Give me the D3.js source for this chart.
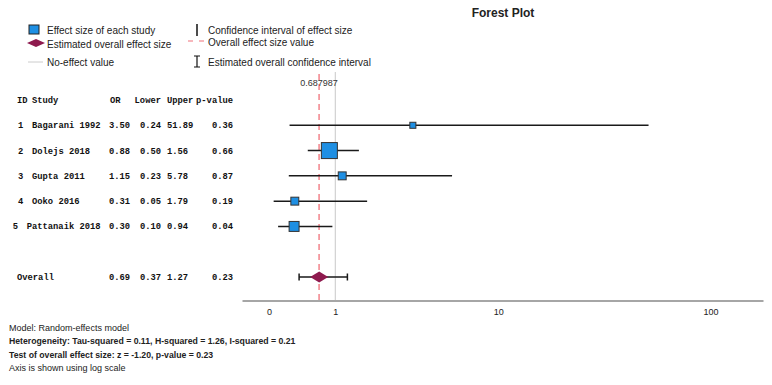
<!DOCTYPE html>
<html>
<head>
<meta charset="utf-8">
<script src="https://cdn.jsdelivr.net/npm/d3@7"></script>
<style>
  body { margin: 0; background: #fff; }
  text { font-family: "Liberation Sans", Arial, sans-serif; fill: #222; }
  .tbl { font-family: "Liberation Mono", "Courier New", monospace; font-weight: bold; font-size: 8.8px; fill: #111; }
</style>
</head>
<body>
<div id="chart"></div>
<script>
// study data
var ids = [1, 2, 3, 4, 5];
var studies = ["Bagarani 1992", "Dolejs 2018", "Gupta 2011", "Ooko 2016", "Pattanaik 2018"];
var orVals = [3.50, 0.88, 1.15, 0.31, 0.30];
var lowerVals = [0.24, 0.50, 0.23, 0.05, 0.10];
var upperVals = [51.89, 1.56, 5.78, 1.79, 0.94];
var pVals = [0.36, 0.66, 0.87, 0.19, 0.04];
var weights = [7, 49, 12, 12, 19];

// overall estimate
var overallLabel = "Overall";
var overallVals = [0.69, 0.37, 1.27, 0.23];   // OR, lower, upper, p
var overallExact = 0.687987;
var noEffect = 1;

var tickVals = [0, 1, 10, 100];
var headers = ["ID", "Study", "OR", "Lower", "Upper", "p-value"];

var footer = [
  { t: "Model: Random-effects model", b: false },
  { t: "Heterogeneity: Tau-squared = 0.11, H-squared = 1.26, I-squared = 0.21", b: true },
  { t: "Test of overall effect size: z = -1.20, p-value = 0.23", b: true },
  { t: "Axis is shown using log scale", b: false }
];

var W = 772, H = 385;
var svg = d3.select('#chart').append('svg')
            .attr('width', W)
            .attr('height', H);

var blue = '#1e8fe3', maroon = '#8e1a4e', red = '#f0707a';

// x: log(1 + v) scale
var xScale = d3.scaleSymlog().constant(1)
               .domain([-0.326, 174])
               .range([242, 763]);

var yScale = d3.scaleLinear().domain([0, 7]).range([100, 277]);

var sizeScale = d3.scaleSqrt().domain([0, 49]).range([0, 16]);

// title
svg.append('text')
   .attr('x', 503).attr('y', 17)
   .attr('text-anchor', 'middle')
   .style('font-size', '12px').style('font-weight', 'bold')
   .text('Forest Plot');

// legend
var lg = svg.append('g').style('font-size', '10px');
lg.append('rect').attr('x', 29).attr('y', 25).attr('width', 10).attr('height', 9)
  .attr('fill', blue).attr('stroke', '#222').attr('stroke-width', 1);
lg.append('text').attr('x', 47).attr('y', 34).text('Effect size of each study');
lg.append('path').attr('d', 'M27,43 L36,39 L45,43 L36,47 Z').attr('fill', maroon);
lg.append('text').attr('x', 47).attr('y', 48).text('Estimated overall effect size');
lg.append('line').attr('x1', 28).attr('x2', 43).attr('y1', 62).attr('y2', 62)
  .attr('stroke', '#ccc').attr('stroke-width', 1);
lg.append('text').attr('x', 47).attr('y', 66).text('No-effect value');

lg.append('line').attr('x1', 197).attr('x2', 197).attr('y1', 24).attr('y2', 36)
  .attr('stroke', '#111').attr('stroke-width', 1.5);
lg.append('text').attr('x', 208).attr('y', 34).text('Confidence interval of effect size');
lg.append('line').attr('x1', 188).attr('x2', 205).attr('y1', 41).attr('y2', 41)
  .attr('stroke', red).attr('stroke-width', 1.2).attr('stroke-dasharray', '5,6');
lg.append('text').attr('x', 208).attr('y', 46).text('Overall effect size value');
lg.append('path').attr('d', 'M194,56 H200 M197,56 V67 M194,67 H200')
  .attr('stroke', '#111').attr('stroke-width', 1.2).attr('fill', 'none');
lg.append('text').attr('x', 208).attr('y', 66).text('Estimated overall confidence interval');

// reference lines
svg.append('line')
   .attr('x1', xScale(noEffect)).attr('x2', xScale(noEffect))
   .attr('y1', 72).attr('y2', 300)
   .attr('stroke', '#c8c8c8').attr('stroke-width', 1);
svg.append('line')
   .attr('x1', xScale(overallExact)).attr('x2', xScale(overallExact))
   .attr('y1', 74).attr('y2', 300)
   .attr('stroke', red).attr('stroke-width', 1.3).attr('stroke-dasharray', '6,4');
svg.append('text')
   .attr('x', xScale(overallExact)).attr('y', 86)
   .attr('text-anchor', 'middle')
   .style('font-size', '9px').style('fill', '#333')
   .text(d3.format('.6f')(overallExact));

// x axis
var xAxis = d3.axisBottom(xScale).tickValues(tickVals).tickSize(0).tickPadding(8)
              .tickFormat(d3.format('d'));
var ax = svg.append('g')
   .attr('transform', 'translate(0,300.5)')
   .call(xAxis);
ax.select('.domain').attr('stroke', '#888').attr('stroke-width', 1.5);
ax.selectAll('text').style('font-size', '9px').style('font-family', '"Liberation Sans", Arial, sans-serif').attr('fill', '#222');

// table
var tbl = svg.append('g').attr('class', 'tbl');
var hy = yScale(0) + 3;
tbl.append('text').attr('class', 'tbl').attr('x', 17).attr('y', hy).text(headers[0]);
tbl.append('text').attr('class', 'tbl').attr('x', 32).attr('y', hy).text(headers[1]);
tbl.append('text').attr('class', 'tbl').attr('x', 110).attr('y', hy).text(headers[2]);
tbl.append('text').attr('class', 'tbl').attr('x', 161).attr('y', hy).attr('text-anchor', 'end').text(headers[3]);
tbl.append('text').attr('class', 'tbl').attr('x', 167).attr('y', hy).text(headers[4]);
tbl.append('text').attr('class', 'tbl').attr('x', 233).attr('y', hy).attr('text-anchor', 'end').text(headers[5]);

var f2 = d3.format('.2f');
var cw = 5.3;
ids.forEach(function(id, i) {
  var y = yScale(i + 1) + 3;
  var shift = Math.max(0, studies[i].length - 13) * cw;
  tbl.append('text').attr('class', 'tbl').attr('x', 18 - shift).attr('y', y).text(id);
  tbl.append('text').attr('class', 'tbl').attr('x', 32 - shift).attr('y', y).text(studies[i]);
  tbl.append('text').attr('class', 'tbl').attr('x', 130).attr('y', y).attr('text-anchor', 'end').text(f2(orVals[i]));
  tbl.append('text').attr('class', 'tbl').attr('x', 161).attr('y', y).attr('text-anchor', 'end').text(f2(lowerVals[i]));
  tbl.append('text').attr('class', 'tbl').attr('x', 167).attr('y', y).text(f2(upperVals[i]));
  tbl.append('text').attr('class', 'tbl').attr('x', 233).attr('y', y).attr('text-anchor', 'end').text(f2(pVals[i]));
});
var oy = yScale(7) + 3;
tbl.append('text').attr('class', 'tbl').attr('x', 17).attr('y', oy).text(overallLabel);
tbl.append('text').attr('class', 'tbl').attr('x', 130).attr('y', oy).attr('text-anchor', 'end').text(f2(overallVals[0]));
tbl.append('text').attr('class', 'tbl').attr('x', 161).attr('y', oy).attr('text-anchor', 'end').text(f2(overallVals[1]));
tbl.append('text').attr('class', 'tbl').attr('x', 167).attr('y', oy).text(f2(overallVals[2]));
tbl.append('text').attr('class', 'tbl').attr('x', 233).attr('y', oy).attr('text-anchor', 'end').text(f2(overallVals[3]));

// confidence intervals
svg.selectAll('line.ci')
   .data(ids)
   .enter()
   .append('line')
   .attr('class', 'ci')
   .attr('x1', function(d, i) { return xScale(lowerVals[i]); })
   .attr('x2', function(d, i) { return xScale(upperVals[i]); })
   .attr('y1', function(d, i) { return yScale(i + 1); })
   .attr('y2', function(d, i) { return yScale(i + 1); })
   .attr('stroke', '#1a1a1a').attr('stroke-width', 1.5);

// study squares
svg.selectAll('rect.box')
   .data(ids)
   .enter()
   .append('rect')
   .attr('class', 'box')
   .attr('x', function(d, i) { return xScale(orVals[i]) - sizeScale(weights[i]) / 2; })
   .attr('y', function(d, i) { return yScale(i + 1) - sizeScale(weights[i]) / 2; })
   .attr('width', function(d, i) { return sizeScale(weights[i]); })
   .attr('height', function(d, i) { return sizeScale(weights[i]); })
   .attr('fill', blue).attr('stroke', '#333').attr('stroke-width', 1);

// overall CI with caps
var yo = yScale(7);
var xl = xScale(overallVals[1]), xu = xScale(overallVals[2]), xm = xScale(overallVals[0]);
svg.append('path')
   .attr('d', 'M' + xl + ',' + yo + 'H' + xu +
              'M' + xl + ',' + (yo - 3.5) + 'V' + (yo + 3.5) +
              'M' + xu + ',' + (yo - 3.5) + 'V' + (yo + 3.5))
   .attr('stroke', '#1a1a1a').attr('stroke-width', 1.5).attr('fill', 'none');
svg.append('path')
   .attr('d', 'M' + (xm - 9) + ',' + yo + 'L' + xm + ',' + (yo - 5.5) +
              'L' + (xm + 9) + ',' + yo + 'L' + xm + ',' + (yo + 5.5) + 'Z')
   .attr('fill', maroon);

// footer notes
svg.selectAll('text.foot')
   .data(footer)
   .enter()
   .append('text')
   .attr('class', 'foot')
   .attr('x', 9)
   .attr('y', function(d, i) { return 331 + i * 13.3; })
   .style('font-size', function(d) { return d.b ? '8.7px' : '9px'; })
   .style('font-weight', function(d) { return d.b ? 'bold' : 'normal'; })
   .text(function(d) { return d.t; });
</script>
</body>
</html>
